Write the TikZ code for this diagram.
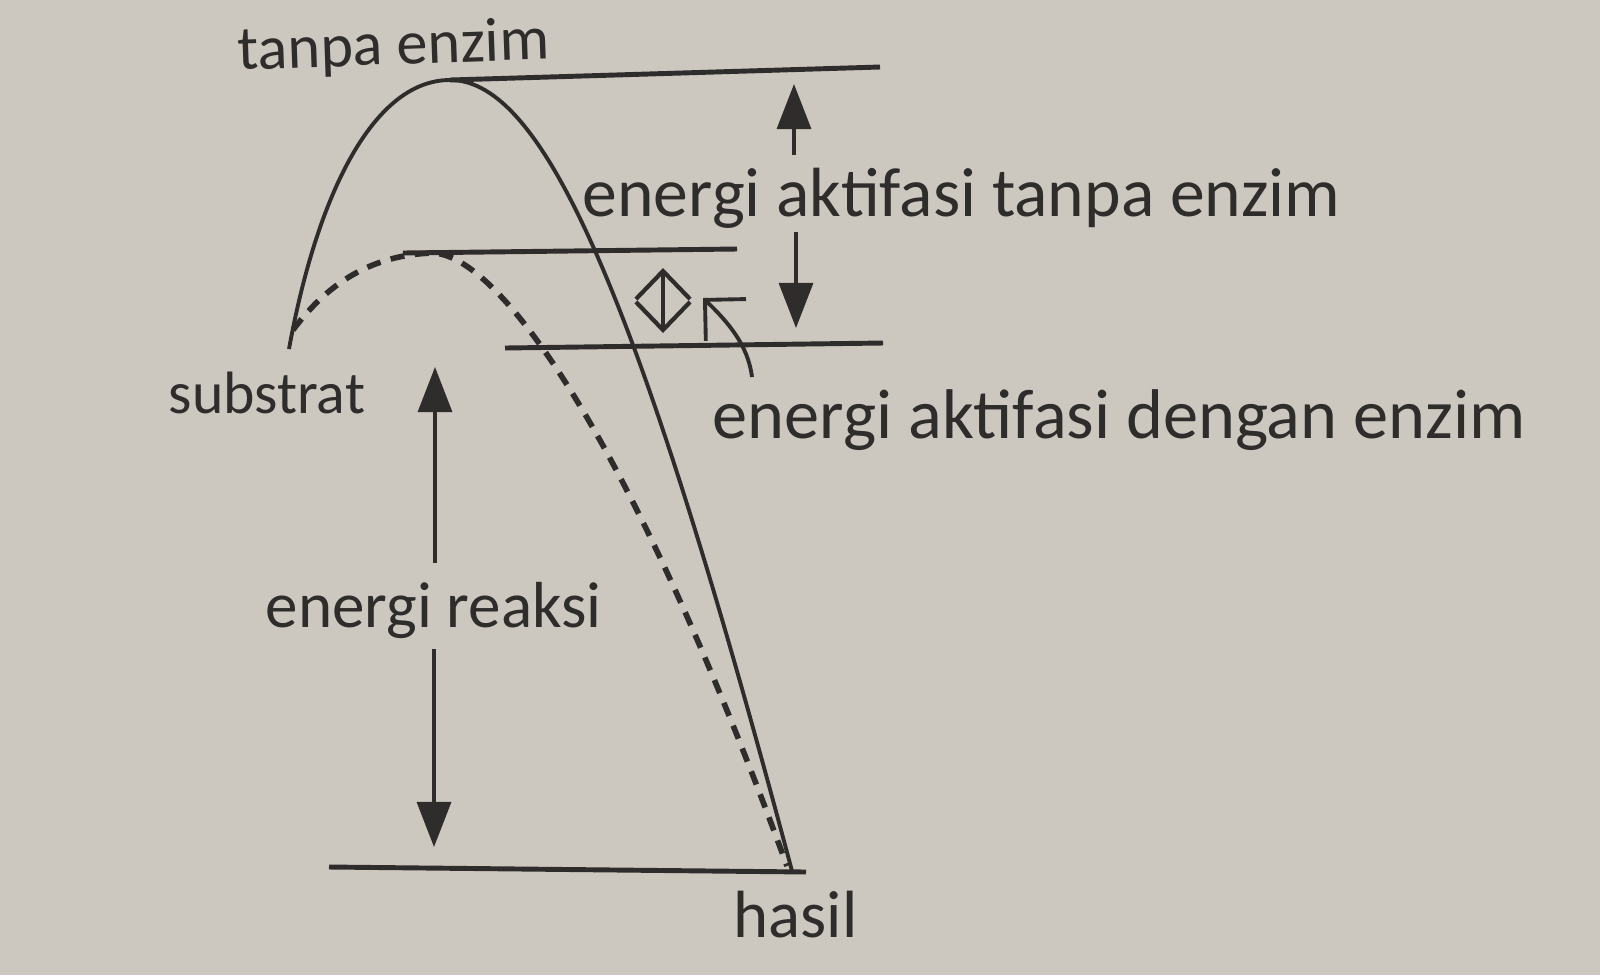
\documentclass[tikz,border=0pt]{standalone}
\usepackage{fontspec}
\setmainfont{Carlito}
\usetikzlibrary{arrows.meta}
\definecolor{PaperGrey}{HTML}{CCC8BF}
\definecolor{InkGrey}{HTML}{2F2C2C}

\begin{document}
\begin{tikzpicture}[x=0.01cm,y=-0.01cm,every node/.style={inner sep=0pt,anchor=base west,text=InkGrey},
  lbl/.style={font=\fontsize{#1}{24}\selectfont},
  level/.style={draw=InkGrey,line width=1.4pt},
  curve/.style={draw=InkGrey,line width=1.1pt},
  gap/.style={draw=InkGrey,line width=0.9pt,-{Triangle[length=4.5mm,width=3.4mm]}},
  barb/.style={draw=InkGrey,line width=1.2pt,{Straight Barb[length=2.8mm,width=5.4mm]}-{Straight Barb[length=2.8mm,width=5.4mm]}},
  pointer/.style={draw=InkGrey,line width=1.1pt,-{Straight Barb[length=2.9mm,width=5.8mm]}}]
  \fill[PaperGrey] (0,0) rectangle (1600,975);
  % energy levels
  \coordinate (tA) at (450,80);  \coordinate (tB) at (880,67);
  \coordinate (mA) at (403,253); \coordinate (mB) at (737,249);
  \coordinate (lA) at (505,348); \coordinate (lB) at (883,343);
  \coordinate (bA) at (329,867); \coordinate (bB) at (806,872);
  \draw[level] (tA) -- (tB);
  \draw[level] (mA) -- (mB);
  \draw[level] (lA) -- (lB);
  \draw[level] (bA) -- (bB);
  % reaction paths
  \coordinate (s0) at (289,349); \coordinate (hs) at (792,871);
  \coordinate (d0) at (293,330); \coordinate (pe) at (432,253); \coordinate (de) at (787,866);
  \draw[curve] (s0) .. controls (318,190) and (375,80) .. (tA) .. controls (545,80) and (640,300) .. (hs);
  \draw[curve,line width=1.6pt,dash pattern=on 4pt off 3pt] (d0) .. controls (330,280) and (375,255) .. (pe) .. controls (492,253) and (620,410) .. (de);
  % arrows
  \coordinate (aU0) at (794,155); \coordinate (aU1) at (794,84);
  \coordinate (aD0) at (796,232); \coordinate (aD1) at (796,328);
  \coordinate (rU0) at (435,563); \coordinate (rU1) at (435,367);
  \coordinate (rD0) at (434,649); \coordinate (rD1) at (434,847);
  \coordinate (dA) at (663,268); \coordinate (dB) at (663,333);
  \coordinate (pA) at (752,377); \coordinate (pB) at (703,298);
  \draw[gap] (aU0) -- (aU1);
  \draw[gap] (aD0) -- (aD1);
  \draw[gap] (rU0) -- (rU1);
  \draw[gap] (rD0) -- (rD1);
  \draw[barb] (dA) -- (dB);
  \draw[pointer] (pA) .. controls (748,345) and (728,322) .. (pB);
  % labels
  \node[lbl=17.7,rotate=2] (tanpa) at (238,70) {tanpa enzim};
  \node[lbl=19.8] (aktT) at (582,216) {energi aktifasi tanpa enzim};
  \node[lbl=20] (aktD) at (712,438) {energi aktifasi dengan enzim};
  \node[lbl=17] (subs) at (168,413) {substrat};
  \node[lbl=18.5] (reak) at (265,627) {energi reaksi};
  \node[lbl=19] (hasil) at (733,937) {hasil};
\end{tikzpicture}
\end{document}
